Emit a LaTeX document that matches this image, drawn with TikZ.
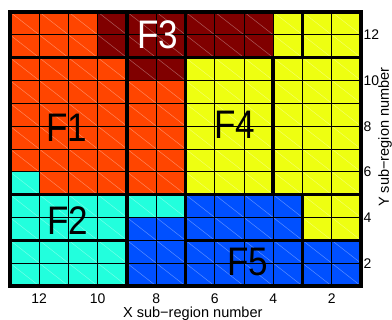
\documentclass[tikz,border=0pt]{standalone}
\usepackage{fontspec}
\setmainfont{Liberation Sans}
\usepackage{graphicx}
\definecolor{cO}{RGB}{255,69,0}
\definecolor{cM}{RGB}{128,0,0}
\definecolor{cY}{RGB}{238,255,17}
\definecolor{cC}{RGB}{34,255,221}
\definecolor{cB}{RGB}{0,80,255}
\tikzset{
  thinline/.style={black, line width=0.9bp},
  diagline/.style={white, opacity=0.35, line width=0.5bp},
  thickline/.style={black, line width=3.6bp, line cap=rect},
  bigf/.style={inner sep=0pt, font=\fontsize{40}{40}\selectfont},
  ticklab/.style={inner sep=0pt, font=\fontsize{14}{14}\selectfont},
  axlab/.style={inner sep=0pt, font=\fontsize{14.6}{14.6}\selectfont}
}
\begin{document}
\begin{tikzpicture}[x=1bp,y=-1bp]
\useasboundingbox (0,0) rectangle (392,320);
\fill[white] (0,0) rectangle (392,320);
\begin{scope}[shift={(10,12)},x=29.25bp,y=-22.8333bp]
  % colour regions
  \fill[cO] (0,0) rectangle (3,2);
  \fill[cO] (0,2) rectangle (4,3);
  \fill[cO] (0,3) rectangle (6,7);
  \fill[cO] (1,7) rectangle (6,8);
  \fill[cM] (3,0) rectangle (9,2);
  \fill[cM] (4,2) rectangle (6,3);
  \fill[cY] (9,0) rectangle (12,2);
  \fill[cY] (6,2) rectangle (12,8);
  \fill[cY] (10,8) rectangle (12,10);
  \fill[cC] (0,7) rectangle (1,8);
  \fill[cC] (0,8) rectangle (6,9);
  \fill[cC] (0,9) rectangle (4,12);
  \fill[cB] (6,8) rectangle (10,9);
  \fill[cB] (4,9) rectangle (10,10);
  \fill[cB] (4,10) rectangle (12,12);
  % diagonals
  \foreach \i in {0,...,11} {
    \foreach \j in {0,...,11} {
      \draw[diagline] (\i,\j) -- (\i+1,\j+1);
    }
  }
  % thin grid
  \foreach \i in {1,...,11} {
    \draw[thinline] (\i,0) -- (\i,12);
    \draw[thinline] (0,\i) -- (12,\i);
  }
  % thick module borders
  \draw[thickline] (0,0) -- (0,12);
  \draw[thickline] (4,0) -- (4,12);
  \draw[thickline] (6,0) -- (6,12);
  \draw[thickline] (9,2) -- (9,8);
  \draw[thickline] (10,0) -- (10,2);
  \draw[thickline] (10,8) -- (10,12);
  \draw[thickline] (12,0) -- (12,12);
  \draw[thickline] (0,0) -- (12,0);
  \draw[thickline] (0,2) -- (12,2);
  \draw[thickline] (0,8) -- (12,8);
  \draw[thickline] (0,10) -- (4,10);
  \draw[thickline] (6,10) -- (12,10);
  \draw[thickline] (0,12) -- (12,12);
\end{scope}
% region labels
\node[bigf] (f1) at (66.5,128) {\scalebox{0.88}[1]{F1}};
\node[bigf, text=white] (f3) at (157.5,35) {\scalebox{0.88}[1]{F3}};
\node[bigf] (f4) at (235,125) {\scalebox{0.88}[1]{F4}};
\node[bigf] (f2) at (67.5,221) {\scalebox{0.88}[1]{F2}};
\node[bigf] (f5) at (248,262) {\scalebox{0.88}[1]{F5}};
% x tick labels
\node[ticklab] (x12) at (39.25,298.5) {12};
\node[ticklab] (x10) at (97.75,298.5) {10};
\node[ticklab] (x8) at (156.25,298.5) {8};
\node[ticklab] (x6) at (214.75,298.5) {6};
\node[ticklab] (x4) at (273.25,298.5) {4};
\node[ticklab] (x2) at (331.75,298.5) {2};
% y tick labels
\node[ticklab, anchor=west] (y12) at (363.5,34.8) {12};
\node[ticklab, anchor=west] (y10) at (363.5,80.5) {10};
\node[ticklab, anchor=west] (y8) at (363.5,126.2) {8};
\node[ticklab, anchor=west] (y6) at (363.5,171.8) {6};
\node[ticklab, anchor=west] (y4) at (363.5,217.5) {4};
\node[ticklab, anchor=west] (y2) at (363.5,263.2) {2};
% axis titles
\node[axlab, anchor=base] (xt) at (192.8,317.8) {X sub−region number};
\node[axlab, rotate=90] (yt) at (385,137) {Y sub−region number};
\end{tikzpicture}
\end{document}
